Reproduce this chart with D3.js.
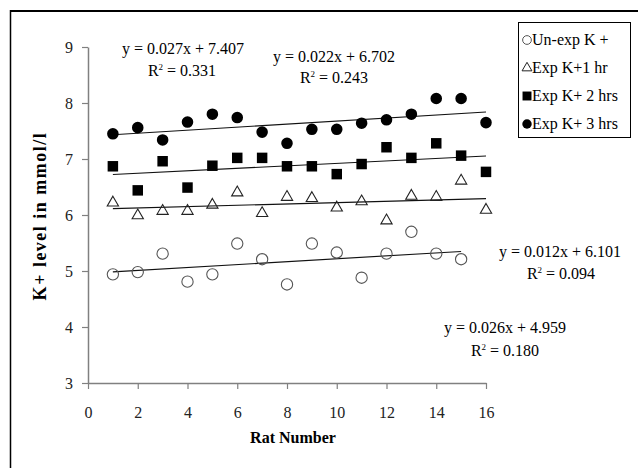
<!DOCTYPE html>
<html>
<head>
<meta charset="utf-8">
<script src="https://cdn.jsdelivr.net/npm/d3@7/dist/d3.min.js"></script>
<style>
body { margin: 0; background: #fff; }
text { font-family: "Liberation Serif", "Times New Roman", serif; }
</style>
</head>
<body>
<div class="chart"></div>
<script>
// values
var rats = [1, 2, 3, 4, 5, 6, 7, 8, 9, 10, 11, 12, 13, 14, 15, 16];
var unexp = [4.94, 4.98, 5.31, 4.81, 4.94, 5.49, 5.21, 4.76, 5.49, 5.33, 4.88, 5.31, 5.70, 5.31, 5.21];
var hr1 = [6.22, 5.99, 6.07, 6.07, 6.18, 6.40, 6.03, 6.32, 6.30, 6.13, 6.24, 5.90, 6.34, 6.32, 6.61, 6.09];
var hr2 = [6.87, 6.44, 6.96, 6.49, 6.88, 7.02, 7.02, 6.87, 6.87, 6.73, 6.91, 7.21, 7.02, 7.28, 7.06, 6.77];
var hr3 = [7.45, 7.56, 7.34, 7.66, 7.80, 7.74, 7.48, 7.28, 7.53, 7.53, 7.64, 7.70, 7.80, 8.08, 8.08, 7.65];

var seriesNames = ["Un-exp K +", "Exp K+1 hr", "Exp K+ 2 hrs", "Exp K+ 3 hrs"];
var slopes = [0.026, 0.012, 0.022, 0.027];
var intercepts = [4.959, 6.101, 6.702, 7.407];
var r2 = ["0.180", "0.094", "0.243", "0.331"];

var xTicks = [0, 2, 4, 6, 8, 10, 12, 14, 16];
var yTicks = [3, 4, 5, 6, 7, 8, 9];

var width = 638, height = 468;
var x = d3.scaleLinear().domain([0, 16]).range([88, 486]);
var y = d3.scaleLinear().domain([3, 9]).range([383, 47]);

var svg = d3.select(".chart").append("svg")
  .attr("width", width)
  .attr("height", height);

svg.append("rect").attr("width", width).attr("height", height).attr("fill", "#fff");

// outer frame (only top and left edges are in view)
svg.append("line").attr("x1", 10).attr("x2", 638).attr("y1", 11).attr("y2", 11)
  .attr("stroke", "#000").attr("stroke-width", 2);
svg.append("line").attr("x1", 10.5).attr("x2", 10.5).attr("y1", 10).attr("y2", 468)
  .attr("stroke", "#000").attr("stroke-width", 1.5);

// axes
var xAxis = svg.append("g")
  .attr("transform", "translate(0,383)")
  .call(d3.axisBottom(x).tickValues(xTicks).tickFormat(d3.format("d")).tickSize(6).tickSizeOuter(0));
var yAxis = svg.append("g")
  .attr("transform", "translate(88,0)")
  .call(d3.axisLeft(y).tickValues(yTicks).tickFormat(d3.format("d")).tickSize(6).tickPadding(9).tickSizeOuter(0));

[xAxis, yAxis].forEach(function(a) {
  a.select(".domain").attr("stroke", "#808080").attr("stroke-width", 1.5);
  a.selectAll(".tick line").attr("stroke", "#808080").attr("stroke-width", 1.2);
  a.selectAll(".tick text")
    .attr("fill", "#222")
    .style("font-size", "16px")
    .style("font-family", '"Liberation Serif", serif');
});
xAxis.selectAll(".tick text").attr("dy", "0.71em").attr("y", 24);

svg.append("text")
  .attr("x", 293)
  .attr("y", 443)
  .attr("text-anchor", "middle")
  .style("font-size", "16px")
  .style("font-weight", "bold")
  .text("Rat Number");

svg.append("text")
  .attr("transform", "translate(46,216) rotate(-90)")
  .attr("text-anchor", "middle")
  .style("font-size", "18px")
  .style("font-weight", "bold")
  .style("letter-spacing", "1.5px")
  .text("K+ level in mmol/l");

var allSeries = [unexp, hr1, hr2, hr3];

// trend lines
allSeries.forEach(function(vals, i) {
  var first = rats[0], last = rats[vals.length - 1];
  svg.append("line")
    .attr("x1", x(first)).attr("y1", y(slopes[i] * first + intercepts[i]))
    .attr("x2", x(last)).attr("y2", y(slopes[i] * last + intercepts[i]))
    .attr("stroke", "#111")
    .attr("stroke-width", 1.1);
});

var symbols = [
  {type: d3.symbolCircle, size: 100, fill: "none", stroke: "#555"},
  {type: d3.symbolTriangle, size: 55, fill: "none", stroke: "#222"},
  {type: d3.symbolSquare, size: 110, fill: "#000", stroke: "none"},
  {type: d3.symbolCircle, size: 105, fill: "#000", stroke: "none"}
];

allSeries.forEach(function(vals, i) {
  var s = symbols[i];
  svg.append("g").selectAll("path")
    .data(vals)
    .enter().append("path")
      .attr("transform", function(d, j) { return "translate(" + x(rats[j]) + "," + y(d) + ")"; })
      .attr("d", d3.symbol().type(s.type).size(s.size))
      .attr("fill", s.fill)
      .attr("stroke", s.stroke)
      .attr("stroke-width", 1.1);
});

// equation labels
var eqPos = [[505, 333], [560, 257], [334, 62], [183, 54]];
var r2Pos = [[505, 356], [561, 279], [334, 83], [182, 76]];
allSeries.forEach(function(vals, i) {
  svg.append("text")
    .attr("x", eqPos[i][0]).attr("y", eqPos[i][1])
    .attr("text-anchor", "middle")
    .style("font-size", "16px")
    .text("y = " + slopes[i].toFixed(3) + "x + " + intercepts[i].toFixed(3));
  var t = svg.append("text")
    .attr("x", r2Pos[i][0]).attr("y", r2Pos[i][1])
    .attr("text-anchor", "middle")
    .style("font-size", "16px");
  t.append("tspan").text("R");
  t.append("tspan").attr("dy", -6).style("font-size", "9px").text("2");
  t.append("tspan").attr("dy", 6).text(" = " + r2[i]);
});

// legend
var legend = svg.append("g");
legend.append("rect")
  .attr("x", 518.5).attr("y", 22.5)
  .attr("width", 112).attr("height", 115)
  .attr("fill", "#fff")
  .attr("stroke", "#000")
  .attr("stroke-width", 1);

var legendSymbols = [
  {type: d3.symbolCircle, size: 60, fill: "none", stroke: "#555"},
  {type: d3.symbolTriangle, size: 42, fill: "none", stroke: "#222"},
  {type: d3.symbolSquare, size: 80, fill: "#000", stroke: "none"},
  {type: d3.symbolCircle, size: 70, fill: "#000", stroke: "none"}
];

var item = legend.selectAll(".item")
  .data(seriesNames)
  .enter().append("g")
    .attr("class", "item")
    .attr("transform", function(d, i) { return "translate(0," + (45 + i * 28) + ")"; });

item.append("path")
  .attr("transform", "translate(527,-5)")
  .attr("d", function(d, i) { return d3.symbol().type(legendSymbols[i].type).size(legendSymbols[i].size)(); })
  .attr("fill", function(d, i) { return legendSymbols[i].fill; })
  .attr("stroke", function(d, i) { return legendSymbols[i].stroke; })
  .attr("stroke-width", 1);

item.append("text")
  .attr("x", 532)
  .style("font-size", "16px")
  .text(function(d) { return d; });
</script>
</body>
</html>
